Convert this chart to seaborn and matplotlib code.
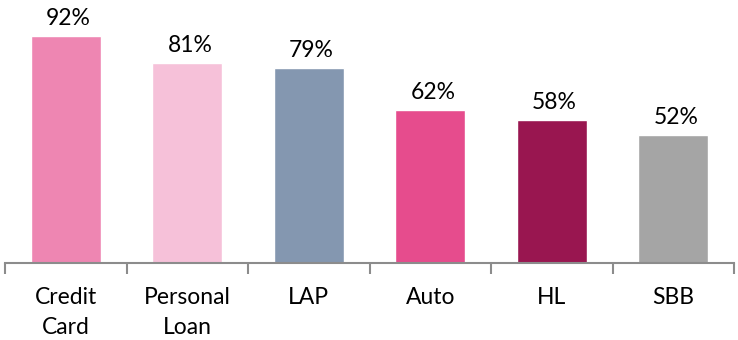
"""Product share bar chart."""

import matplotlib
matplotlib.use("Agg")
import matplotlib.pyplot as plt
import numpy as np
import pandas as pd
import seaborn as sns

categories = ["Credit\nCard", "Personal\nLoan", "LAP", "Auto", "HL", "SBB"]
values = [92, 81, 79, 62, 58, 52]
colors = ["#EE86B2", "#F6C1D9", "#8497B0", "#E64C8D", "#991650", "#A5A5A5"]

sns.set_style("white")
plt.rcParams["font.family"] = ["Lato", "DejaVu Sans"]

df = pd.DataFrame({"product": categories, "share": values})

fig = plt.figure(figsize=(7.38, 3.4), dpi=100)
ax = fig.add_axes([5 / 738, 77 / 340, 729 / 738, 263 / 340])

sns.barplot(data=df, x="product", y="share", hue="product", palette=colors,
            width=0.58, legend=False, saturation=1, ax=ax)

for patch, val in zip(ax.patches, values):
    ax.annotate(f"{val}%", (patch.get_x() + patch.get_width() / 2, patch.get_height()),
                xytext=(2, 5), textcoords="offset points",
                ha="center", va="bottom", fontsize=16.5, color="#000000")

ax.set_xlim(-0.5, len(categories) - 0.5)
ax.set_ylim(0, 106.6)
ax.set_xlabel("")
ax.set_ylabel("")
ax.set_yticks([])

ax.set_xticks(np.arange(-0.5, len(categories)), minor=True)
ax.tick_params(axis="x", which="minor", bottom=True, length=8, width=1.5,
               color="#8C8C8C", direction="out")
ax.tick_params(axis="x", which="major", bottom=False, length=0, pad=17,
               labelsize=16.5, labelcolor="#000000")
for lab in ax.get_xticklabels():
    lab.set_linespacing(1.55)

for side in ["top", "right", "left"]:
    ax.spines[side].set_visible(False)
ax.spines["bottom"].set_color("#8C8C8C")
ax.spines["bottom"].set_linewidth(1.5)

fig.savefig("out.png", dpi=100)
plt.close(fig)
